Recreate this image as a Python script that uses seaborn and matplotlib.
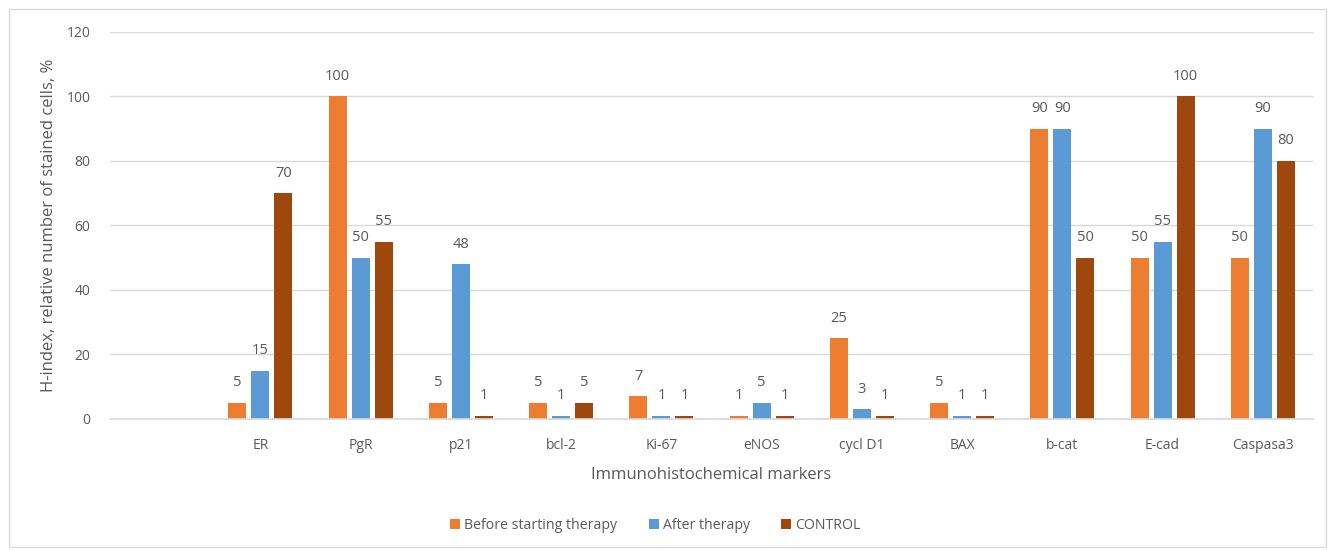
import matplotlib
matplotlib.use("Agg")
import matplotlib.pyplot as plt
import seaborn as sns
import pandas as pd
from matplotlib.patches import Rectangle

markers = ["ER", "PgR", "p21", "bcl-2", "Ki-67", "eNOS", "cycl D1", "BAX", "b-cat", "E-cad", "Caspasa3"]
series_names = ["Before starting therapy", "After therapy", "CONTROL"]
before = [5, 100, 5, 5, 7, 1, 25, 5, 90, 50, 50]
after = [15, 50, 48, 1, 1, 5, 3, 1, 90, 55, 90]
control = [70, 55, 1, 5, 1, 1, 1, 1, 50, 100, 80]
colors = ["#ED7D31", "#5B9BD5", "#9E480E"]
yticks = [0, 20, 40, 60, 80, 100, 120]

rows = []
for name, vals in zip(series_names, [before, after, control]):
    for m, v in zip(markers, vals):
        rows.append({"marker": m, "series": name, "value": v})
df = pd.DataFrame(rows)

sns.set_theme(style="white")
plt.rcParams['font.family'] = ['Open Sans', 'DejaVu Sans']
text_color = "#595959"

fig = plt.figure(figsize=(13.35, 5.51), dpi=100)
ax = fig.add_axes([0.0824, 0.2396, 0.9011, 0.7024])

order = [""] + markers
sns.barplot(data=df, x="marker", y="value", hue="series", order=order,
            hue_order=series_names, palette=colors, width=0.69,
            saturation=1, ax=ax, legend=True, linewidth=0)

# shrink each bar to leave gaps as in the reference
for p in ax.patches:
    w = p.get_width()
    if w == 0:
        continue
    new_w = w * 0.18 / 0.23
    x = p.get_x() + (w - new_w) / 2
    p.set_x(x)
    p.set_width(new_w)

for c in ax.containers:
    ax.bar_label(c, padding=9, fontsize=10.5, color=text_color)

ax.set_ylim(0, 120)
ax.set_yticks(yticks)
ax.set_xlim(-0.5, len(order) - 0.5)
ax.grid(axis="y", color="#D9D9D9", linewidth=1)
ax.set_axisbelow(True)
for s in ["top", "right", "left"]:
    ax.spines[s].set_visible(False)
ax.spines["bottom"].set_color("#D9D9D9")
ax.tick_params(axis="both", length=0, labelsize=10, colors=text_color)
ax.tick_params(axis="x", pad=14)
ax.tick_params(axis="y", pad=14)
ax.set_xlabel("Immunohistochemical markers", fontsize=12, color=text_color, labelpad=10)
ax.set_ylabel("H-index, relative number of stained cells, %", fontsize=12, color=text_color, labelpad=7)

handles, labels = ax.get_legend_handles_labels()
ax.legend_.remove()
fig.legend(handles, labels, loc="center", bbox_to_anchor=(0.491, 0.047), ncol=3,
           frameon=False, fontsize=10.2, labelcolor=text_color, handlelength=0.7,
           handleheight=0.7, handletextpad=0.3, columnspacing=2.2)

fig.patches.append(Rectangle((0.007, 0.008), 0.986, 0.976, transform=fig.transFigure,
                             fill=False, edgecolor="#D9D9D9", linewidth=1))

fig.savefig("out.png", dpi=100)
